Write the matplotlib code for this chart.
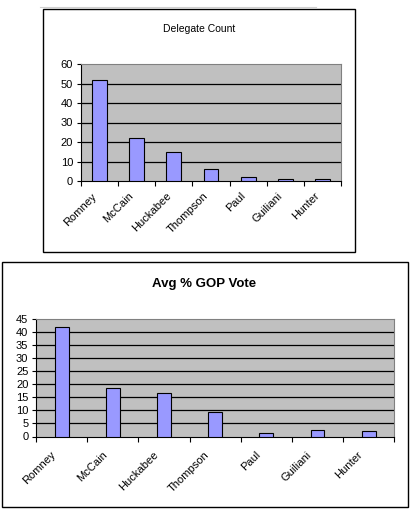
import matplotlib.pyplot as plt
from matplotlib.patches import Rectangle
from matplotlib.lines import Line2D
from matplotlib.transforms import ScaledTranslation

names = ['Romney', 'McCain', 'Huckabee', 'Thompson', 'Paul', 'Guiliani', 'Hunter']
delegates = [52, 22, 15, 6, 2, 1, 1]
gop_vote = [42.2, 18.5, 16.6, 9.5, 1.2, 2.4, 2.1]

W, H = 418, 520


def fig_rect(x0, y0, x1, y1):
    # pixel box (top-left origin) -> figure fraction [left, bottom, width, height]
    return [x0 / W, 1 - y1 / H, (x1 - x0) / W, (y1 - y0) / H]


def excel_bars(fig, ax, values, ymax, step, bar_w, lab_dx, lab_dy):
    n = len(values)
    x = list(range(n))
    ax.set_facecolor('#C0C0C0')
    ax.bar(x, values, width=bar_w, color='#9999FF', edgecolor='black',
           linewidth=0.8, zorder=3)
    ax.set_xlim(-0.5, n - 0.5)
    ax.set_ylim(0, ymax)
    yt = list(range(0, ymax + 1, step))
    ax.set_yticks(yt)
    for v in yt[1:-1]:
        ax.axhline(v, color='black', linewidth=0.9, zorder=1)
    ax.set_xticks([i - 0.5 for i in range(n + 1)])
    ax.set_xticklabels([])
    ax.set_xticks(x, minor=True)
    ax.set_xticklabels(names, minor=True, rotation=45, ha='right',
                       rotation_mode='anchor', fontsize=8)
    ax.tick_params(axis='x', which='major', direction='out', length=3.5,
                   width=0.8)
    ax.tick_params(axis='x', which='minor', length=0, pad=0)
    ax.tick_params(axis='y', direction='out', length=3, width=0.8,
                   labelsize=8, pad=2.5)
    # nudge rotated labels the way Excel places them (offset in pixels)
    off = ScaledTranslation(lab_dx / 100, -lab_dy / 100, fig.dpi_scale_trans)
    for lab in ax.get_xticklabels(minor=True):
        lab.set_transform(lab.get_transform() + off)
    for s in ['top', 'right']:
        ax.spines[s].set_color('#808080')
        ax.spines[s].set_linewidth(0.8)
    for s in ['left', 'bottom']:
        ax.spines[s].set_color('black')
        ax.spines[s].set_linewidth(0.8)


plt.rcParams['font.family'] = ['Liberation Sans', 'DejaVu Sans']

fig = plt.figure(figsize=(W / 100, H / 100), dpi=100)

# chart frames
for box in [(42.7, 9.3, 355.3, 252.3), (1.7, 262, 408, 507)]:
    l, b, w, h = fig_rect(*box)
    fig.add_artist(Rectangle((l, b), w, h, transform=fig.transFigure,
                             facecolor='white', edgecolor='black',
                             linewidth=1.0, zorder=0))

# faint line at the very top of the image
fig.add_artist(Line2D([40 / W, 316 / W], [1 - 7 / H, 1 - 7 / H],
                      transform=fig.transFigure, color='#D0D0D0',
                      linewidth=0.8))

ax1 = fig.add_axes(fig_rect(80.7, 64, 341.3, 181))
excel_bars(fig, ax1, delegates, 60, 10, 0.4, -8, 10)
fig.text(199 / W, 1 - 29 / H, 'Delegate Count', ha='center', va='center',
         fontsize=7.5)

ax2 = fig.add_axes(fig_rect(36, 319.3, 394.3, 436.5))
excel_bars(fig, ax2, gop_vote, 45, 5, 0.27, -11, 13)
fig.text(204 / W, 1 - 284 / H, 'Avg % GOP Vote', ha='center', va='center',
         fontsize=9.5, fontweight='bold')

plt.savefig('out.png', dpi=100)
